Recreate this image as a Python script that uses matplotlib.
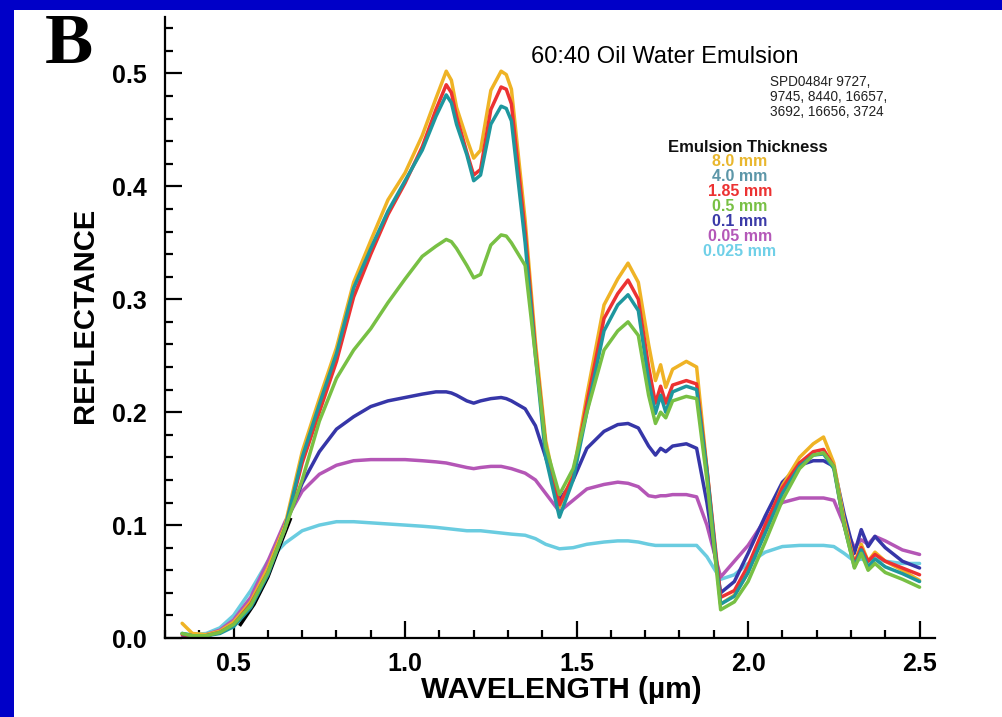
import matplotlib
matplotlib.use("Agg")
import matplotlib.pyplot as plt
from matplotlib.patches import Rectangle
from matplotlib.ticker import MultipleLocator, FormatStrFormatter

# wavelength grid (um), shared by all the spectra
wavelength = [0.35, 0.38, 0.42, 0.46, 0.50, 0.55, 0.60, 0.65, 0.70, 0.75,
              0.80, 0.85, 0.90, 0.95, 1.00, 1.05, 1.09, 1.12, 1.135, 1.15,
              1.18, 1.20, 1.22, 1.25, 1.28, 1.295, 1.31, 1.35, 1.38, 1.41,
              1.45, 1.49, 1.53, 1.58, 1.62, 1.65, 1.68, 1.71, 1.73, 1.745,
              1.76, 1.78, 1.82, 1.85, 1.88, 1.92, 1.96, 2.00, 2.05, 2.10,
              2.15, 2.19, 2.22, 2.25, 2.28, 2.31, 2.33, 2.35, 2.37, 2.40,
              2.45, 2.50]

# reflectance, one list per emulsion thickness
r_8_0 = [0.013, 0.004, 0.003, 0.006, 0.014, 0.032, 0.062, 0.100, 0.165, 0.212,
         0.257, 0.315, 0.352, 0.388, 0.412, 0.445, 0.478, 0.502, 0.494, 0.470,
         0.442, 0.425, 0.432, 0.485, 0.502, 0.499, 0.486, 0.370, 0.262, 0.175,
         0.116, 0.145, 0.215, 0.295, 0.318, 0.332, 0.315, 0.260, 0.228, 0.242,
         0.222, 0.238, 0.245, 0.240, 0.150, 0.030, 0.038, 0.058, 0.097, 0.135,
         0.160, 0.172, 0.178, 0.155, 0.105, 0.066, 0.083, 0.068, 0.076, 0.068,
         0.060, 0.051]
r_4_0 = [0.004, 0.002, 0.002, 0.004, 0.010, 0.027, 0.056, 0.097, 0.160, 0.207,
         0.252, 0.310, 0.345, 0.378, 0.405, 0.432, 0.462, 0.481, 0.474, 0.455,
         0.428, 0.405, 0.410, 0.455, 0.471, 0.469, 0.458, 0.350, 0.250, 0.160,
         0.107, 0.140, 0.200, 0.272, 0.295, 0.304, 0.290, 0.228, 0.199, 0.215,
         0.200, 0.218, 0.223, 0.220, 0.148, 0.030, 0.037, 0.058, 0.093, 0.128,
         0.152, 0.162, 0.163, 0.150, 0.100, 0.063, 0.078, 0.063, 0.070, 0.063,
         0.057, 0.050]
r_1_85 = [0.003, 0.002, 0.002, 0.005, 0.012, 0.030, 0.058, 0.097, 0.155, 0.200,
          0.245, 0.302, 0.340, 0.375, 0.403, 0.435, 0.468, 0.490, 0.483, 0.462,
          0.430, 0.410, 0.415, 0.468, 0.488, 0.486, 0.473, 0.360, 0.255, 0.170,
          0.118, 0.143, 0.208, 0.283, 0.305, 0.317, 0.300, 0.240, 0.208, 0.223,
          0.208, 0.224, 0.228, 0.225, 0.150, 0.036, 0.042, 0.064, 0.100, 0.133,
          0.155, 0.165, 0.167, 0.152, 0.100, 0.066, 0.080, 0.068, 0.074, 0.068,
          0.062, 0.056]
r_0_5 = [0.004, 0.002, 0.002, 0.005, 0.012, 0.029, 0.058, 0.097, 0.140, 0.192,
         0.230, 0.255, 0.274, 0.297, 0.318, 0.338, 0.347, 0.353, 0.351, 0.345,
         0.330, 0.319, 0.322, 0.348, 0.357, 0.356, 0.350, 0.330, 0.250, 0.170,
         0.127, 0.150, 0.200, 0.255, 0.272, 0.280, 0.268, 0.215, 0.190, 0.200,
         0.195, 0.210, 0.214, 0.212, 0.140, 0.025, 0.032, 0.050, 0.085, 0.122,
         0.150, 0.162, 0.164, 0.152, 0.100, 0.062, 0.075, 0.060, 0.066, 0.058,
         0.052, 0.045]
r_0_1 = [0.000, 0.002, 0.002, 0.005, 0.012, 0.030, 0.060, 0.100, 0.137, 0.165,
         0.185, 0.196, 0.205, 0.210, 0.213, 0.216, 0.218, 0.218, 0.217, 0.215,
         0.210, 0.208, 0.210, 0.212, 0.213, 0.212, 0.210, 0.203, 0.188, 0.160,
         0.122, 0.140, 0.168, 0.183, 0.189, 0.190, 0.186, 0.170, 0.162, 0.168,
         0.165, 0.170, 0.172, 0.168, 0.120, 0.040, 0.050, 0.075, 0.108, 0.138,
         0.153, 0.157, 0.157, 0.152, 0.110, 0.075, 0.096, 0.081, 0.090, 0.080,
         0.068, 0.062]
r_0_05 = [0.000, 0.001, 0.003, 0.007, 0.016, 0.036, 0.068, 0.103, 0.130, 0.145,
          0.153, 0.157, 0.158, 0.158, 0.158, 0.157, 0.156, 0.155, 0.154, 0.153,
          0.151, 0.150, 0.151, 0.152, 0.152, 0.151, 0.150, 0.146, 0.140, 0.128,
          0.112, 0.122, 0.132, 0.136, 0.138, 0.137, 0.134, 0.126, 0.125, 0.126,
          0.126, 0.127, 0.127, 0.125, 0.100, 0.054, 0.068, 0.082, 0.105, 0.120,
          0.124, 0.124, 0.124, 0.122, 0.100, 0.080, 0.087, 0.083, 0.090, 0.086,
          0.078, 0.074]
r_0_025 = [0.004, 0.003, 0.004, 0.009, 0.020, 0.042, 0.068, 0.084, 0.095, 0.100,
           0.103, 0.103, 0.102, 0.101, 0.100, 0.099, 0.098, 0.097, 0.0965, 0.096,
           0.095, 0.095, 0.095, 0.094, 0.093, 0.0925, 0.092, 0.091, 0.088, 0.083,
           0.079, 0.080, 0.083, 0.085, 0.086, 0.086, 0.085, 0.083, 0.082, 0.082,
           0.082, 0.082, 0.082, 0.082, 0.072, 0.052, 0.056, 0.066, 0.076, 0.081,
           0.082, 0.082, 0.082, 0.081, 0.075, 0.068, 0.070, 0.068, 0.070, 0.068,
           0.066, 0.066]

# short dark trace visible under the others on the rising edge
black_wl = [0.52, 0.56, 0.60, 0.63, 0.665]
black_r = [0.012, 0.030, 0.054, 0.078, 0.105]

labels = ["8.0 mm", "4.0 mm", "1.85 mm", "0.5 mm", "0.1 mm", "0.05 mm", "0.025 mm"]
line_colors = ["#EFB325", "#1E979E", "#EC3232", "#78C044", "#3636A8", "#B456B6", "#6ACCE0"]
text_colors = ["#E9B72E", "#5C96A8", "#EC3232", "#78C044", "#3A3AA8", "#B458B8", "#70D0E8"]
sample_ids = "SPD0484r 9727,\n9745, 8440, 16657,\n3692, 16656, 3724"

W, H = 1002, 717


def fx(px):
    return px / W


def fy(py):
    return 1 - py / H


fig = plt.figure(figsize=(W / 100, H / 100), dpi=100)
fig.patch.set_facecolor("#0000C8")
# white page inside the blue frame
fig.add_artist(Rectangle((fx(14), 0), 1, fy(10), transform=fig.transFigure,
                         facecolor="white", edgecolor="none", zorder=-5))

ax = fig.add_axes([fx(165), fy(638), fx(935) - fx(165), fy(17) - fy(638)])
ax.set_facecolor("white")

series = [r_8_0, r_4_0, r_1_85, r_0_5, r_0_1, r_0_05, r_0_025]
# draw thin ones first, thick green last like the original
order = [6, 5, 4, 0, 2, 1, 3]
for i in order:
    ax.plot(wavelength, series[i], color=line_colors[i], lw=2.5,
            solid_joinstyle="round", solid_capstyle="round")
    if i == 4:
        ax.plot(black_wl, black_r, color="black", lw=2.5)

ax.set_xlim(0.30, 2.545)
ax.set_ylim(0.0, 0.55)

for s in ["top", "right"]:
    ax.spines[s].set_visible(False)
for s in ["left", "bottom"]:
    ax.spines[s].set_linewidth(1.6)

ax.xaxis.set_major_locator(MultipleLocator(0.5))
ax.xaxis.set_minor_locator(MultipleLocator(0.1))
ax.yaxis.set_major_locator(MultipleLocator(0.1))
ax.yaxis.set_minor_locator(MultipleLocator(0.02))
ax.xaxis.set_major_formatter(FormatStrFormatter("%.1f"))
ax.yaxis.set_major_formatter(FormatStrFormatter("%.1f"))
ax.set_xticks([0.5, 1.0, 1.5, 2.0, 2.5])

ax.tick_params(which="major", direction="in", length=12, width=1.6,
               labelsize=18, top=False, right=False)
ax.tick_params(which="minor", direction="in", length=6, width=1.6, top=False, right=False)
ax.tick_params(axis="x", which="major", pad=10)
ax.tick_params(axis="y", which="major", pad=13)
for lab in ax.get_xticklabels() + ax.get_yticklabels():
    lab.set_fontweight("bold")
    lab.set_family("Liberation Sans")

ax.set_xlabel("WAVELENGTH (\u00b5m)", fontsize=21.5, fontweight="bold", family="Liberation Sans")
ax.xaxis.set_label_coords((561 - 165) / 770, (638 - 676) / 621)
ax.set_ylabel("REFLECTANCE", fontsize=21, fontweight="bold", family="Liberation Sans")
ax.yaxis.set_label_coords((99 - 165) / 770, (638 - 315) / 621)

# panel letter and annotations
fig.text(fx(45), fy(63), "B", fontsize=52, fontweight="bold", family="Liberation Serif",
         va="baseline", ha="left")
fig.text(fx(531), fy(63), "60:40 Oil Water Emulsion", fontsize=17, family="Liberation Sans",
         va="baseline", ha="left")
fig.text(fx(770), fy(75), sample_ids, fontsize=9.8, family="Liberation Sans",
         va="top", ha="left", linespacing=1.1, color="#222222")
fig.text(fx(748), fy(152), "Emulsion Thickness", fontsize=12, fontweight="bold",
         family="Liberation Sans", va="baseline", ha="center", color="#111111")
for k, lab in enumerate(labels):
    fig.text(fx(740), fy(166 + 15 * k), lab, fontsize=11.5, fontweight="bold",
             family="Liberation Sans", va="baseline", ha="center", color=text_colors[k])

fig.savefig("out.png", dpi=100, facecolor=fig.get_facecolor())
